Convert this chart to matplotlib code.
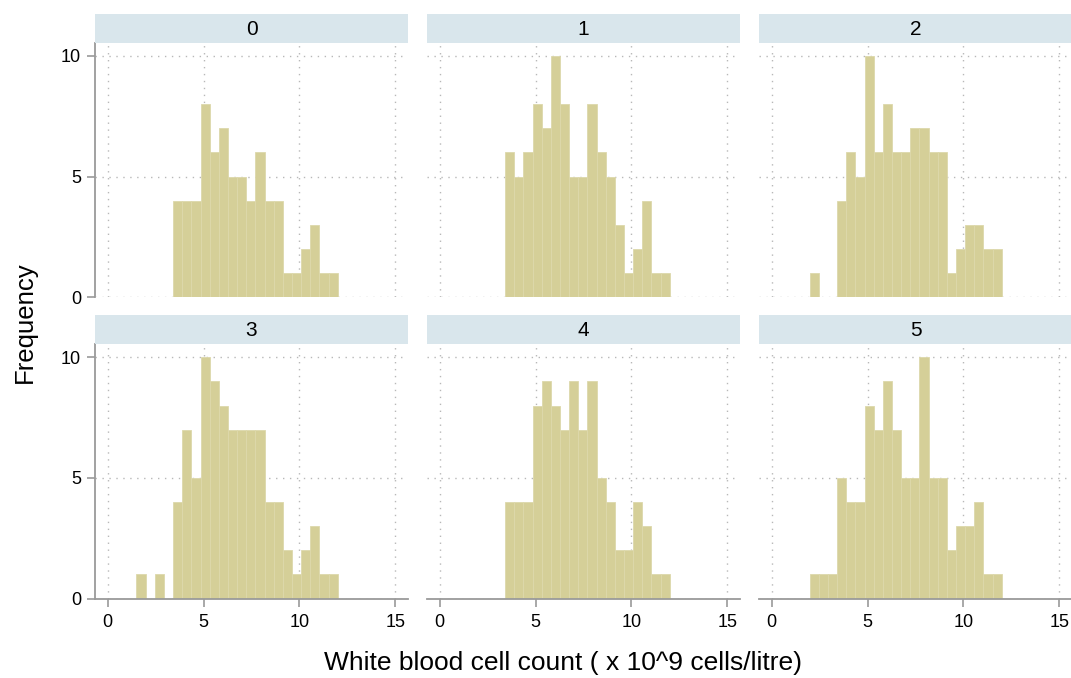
import numpy as np
import matplotlib.pyplot as plt

plt.rcParams["font.family"] = ["Liberation Sans", "DejaVu Sans"]

# histogram bins: 22 equal bins from 1.5 to 12
bin_start = 1.5
bin_end = 12.0
n_bins = 22

groups = ["0", "1", "2", "3", "4", "5"]

counts_0 = [0, 0, 0, 0, 4, 4, 4, 8, 6, 7, 5, 5, 4, 6, 4, 4, 1, 1, 2, 3, 1, 1]
counts_1 = [0, 0, 0, 0, 6, 5, 6, 8, 7, 10, 8, 5, 5, 8, 6, 5, 3, 1, 2, 4, 1, 1]
counts_2 = [0, 1, 0, 0, 4, 6, 5, 10, 6, 8, 6, 6, 7, 7, 6, 6, 1, 2, 3, 3, 2, 2]
counts_3 = [1, 0, 1, 0, 4, 7, 5, 10, 9, 8, 7, 7, 7, 7, 4, 4, 2, 1, 2, 3, 1, 1]
counts_4 = [0, 0, 0, 0, 4, 4, 4, 8, 9, 8, 7, 9, 7, 9, 5, 4, 2, 2, 4, 3, 1, 1]
counts_5 = [0, 1, 1, 1, 5, 4, 4, 8, 7, 9, 7, 5, 5, 10, 5, 5, 2, 3, 3, 4, 1, 1]

all_counts = [counts_0, counts_1, counts_2, counts_3, counts_4, counts_5]

x_ticks = [0, 5, 10, 15]
y_ticks = [0, 5, 10]

bar_color = "#d5cf98"
strip_color = "#d9e6ec"
axis_grey = "#9a9a9a"
grid_grey = "#b8b8b8"

edges = np.linspace(bin_start, bin_end, n_bins + 1)

W, H = 1071, 678
fig = plt.figure(figsize=(W / 100, H / 100), dpi=100)

col_left = [95, 427, 759]
panel_w = 313
row_top = [42.7, 344]
panel_h = 254.5
strip_h = 28.7

for i, g in enumerate(groups):
    r, c = divmod(i, 3)
    left = col_left[c] / W
    bottom = 1 - (row_top[r] + panel_h) / H
    ax = fig.add_axes([left, bottom, panel_w / W, panel_h / H])

    # strip header
    sax = fig.add_axes([left, 1 - row_top[r] / H, panel_w / W, strip_h / H])
    sax.set_facecolor(strip_color)
    sax.set_xticks([])
    sax.set_yticks([])
    for s in sax.spines.values():
        s.set_visible(False)
    sax.text(0.5, 0.47, g, ha="center", va="center", fontsize=15, transform=sax.transAxes)

    ax.hist(edges[:-1], bins=edges, weights=all_counts[i],
            color=bar_color, edgecolor="#ddd8ab", linewidth=0.6, zorder=2)

    ax.set_xlim(-0.66, 15.66)
    ax.set_ylim(0, 10.55)
    ax.set_xticks(x_ticks)
    ax.set_yticks(y_ticks)

    for x in x_ticks:
        ax.axvline(x, color=grid_grey, lw=1.0, ls=(0, (1, 4)), zorder=1)
    for y in y_ticks:
        ax.axhline(y, color=grid_grey, lw=1.0, ls=(0, (1, 4)), zorder=1)

    for s in ["top", "right"]:
        ax.spines[s].set_visible(False)

    if c == 0:
        ax.spines["left"].set_color(axis_grey)
        ax.spines["left"].set_linewidth(1.3)
        ax.tick_params(axis="y", length=6, width=1.2, color=axis_grey, labelsize=13, pad=4)
    else:
        ax.spines["left"].set_visible(False)
        ax.tick_params(axis="y", left=False, labelleft=False)

    if r == 1:
        ax.spines["bottom"].set_color(axis_grey)
        ax.spines["bottom"].set_linewidth(1.3)
        ax.tick_params(axis="x", length=6, width=1.2, color=axis_grey, labelsize=13, pad=5)
    else:
        ax.spines["bottom"].set_visible(False)
        ax.tick_params(axis="x", bottom=False, labelbottom=False)

fig.text(0.0229, 0.5243, "Frequency", rotation=90, ha="center", va="center", fontsize=18.5)
fig.text(563 / W, 1 - 663 / H, "White blood cell count ( x 10^9 cells/litre)",
         ha="center", va="center", fontsize=19)

fig.savefig("out.png", dpi=100)
